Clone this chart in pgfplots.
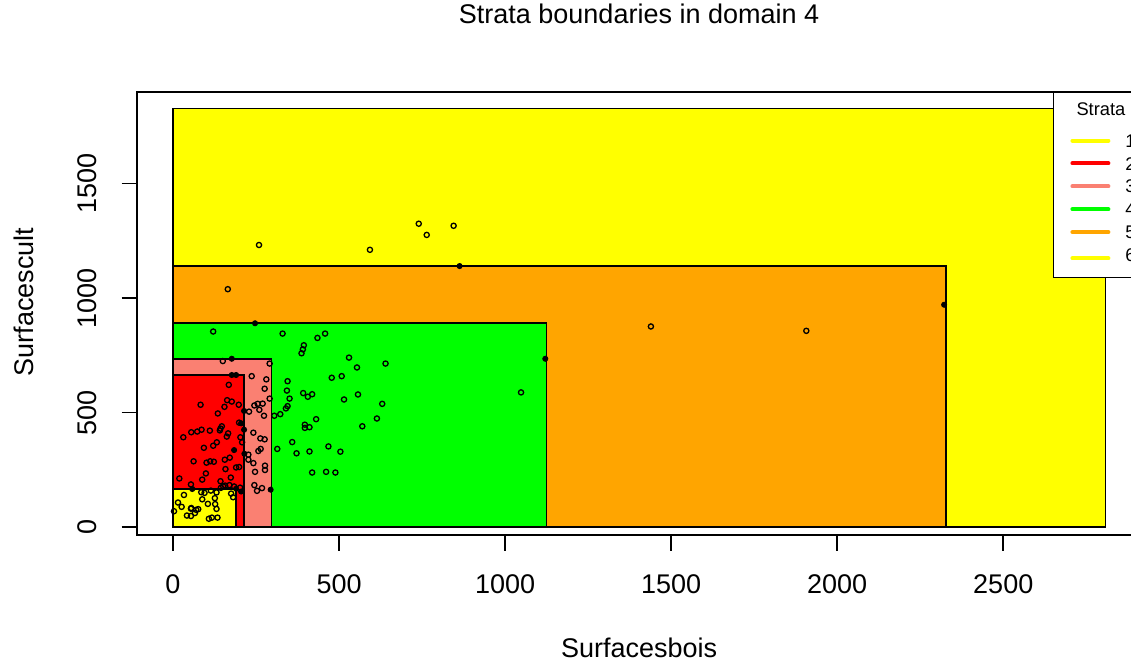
\documentclass[border=0pt]{standalone}
\usepackage{fontspec}
\setmainfont{Liberation Sans}
\usepackage{pgfplots}
\pgfplotsset{compat=1.18}
\definecolor{rsalmon}{HTML}{FA8072}
\definecolor{ryellow}{HTML}{FFFF00}
\definecolor{rred}{HTML}{FF0000}
\definecolor{rgreen}{HTML}{00FF00}
\definecolor{rorange}{HTML}{FFA500}
\pgfplotstableread{
x y
121 854
330 845
435 826
458 845
394 794
391 776
387 759
150 725
291 714
237 659
281 645
168 621
345 637
276 604
343 596
392 585
406 569
419 580
291 561
351 561
83 534
163 554
177 548
198 534
155 525
255 538
270 539
245 531
260 512
340 518
345 528
229 504
135 496
274 486
305 486
323 493
431 471
199 456
147 440
143 430
141 422
397 447
397 433
411 436
86 425
73 417
55 414
111 421
166 409
162 395
31 392
203 392
242 412
263 387
276 383
208 370
132 370
121 355
93 346
314 341
359 371
372 322
411 330
264 341
257 332
227 316
227 294
171 303
156 294
62 287
101 281
112 287
123 285
242 279
199 262
190 260
158 253
247 241
277 268
277 249
99 234
174 216
419 238
19 212
88 207
143 200
54 186
151 178
157 181
170 183
184 177
202 172
245 183
253 158
268 170
85 152
95 149
114 159
131 151
33 140
175 146
181 130
88 121
15 107
26 88
105 101
127 100
131 79
3 69
54 80
70 75
76 78
66 61
42 50
54 48
108 36
134 41
144 171
126 126
117 41
55 83
530 740
554 697
640 714
478 652
508 659
515 557
557 579
630 538
614 474
570 440
468 352
504 329
461 241
489 238
1048 588
740 1325
764 1276
845 1316
593 1211
259 1232
165 1039
1439 876
1907 857
}\openpts
\pgfplotstableread{
x y
247 890
177 735
177 664
190 664
214 507
205 453
214 425
184 336
215 320
58 166
190 167
294 163
1121 735
2322 971
863 1140
205 155
}\filledpts
\begin{document}
\begin{tikzpicture}
\begin{axis}[
 at={(68.65pt,65.5pt)}, anchor=south west,
 scale only axis, width=502.85pt, height=221.5pt,
 xmin=-107.5, xmax=2920.8, ymin=-35, ymax=1900.4,
 axis line style={line width=0.8pt},
 tick pos=left, tick align=outside, major tick length=7.8pt,
 tick style={black, line width=0.8pt},
 xtick={0,500,1000,1500,2000,2500}, ytick={0,500,1000,1500},
 minor tick num=0,
 scaled ticks=false,
 /pgf/number format/assume math mode=true,
 /pgf/number format/set thousands separator={},
 ticklabel style={font=\fontsize{13.5}{16}\selectfont, inner sep=0pt},
 xticklabel style={anchor=base},
 yticklabel style={rotate=90, anchor=base},
 xticklabel shift=21.2pt, yticklabel shift=12.5pt,
 title={Strata boundaries in domain 4},
 title style={at={(rel axis cs:0.4989,1.12867)}, anchor=base, inner sep=0pt, font=\fontsize{13.5}{16}\selectfont},
 xlabel={Surfacesbois},
 xlabel style={at={(rel axis cs:0.4989,-0.2754)}, anchor=base, inner sep=0pt, font=\fontsize{13.5}{16}\selectfont},
 ylabel={Surfacescult},
 ylabel style={at={(rel axis cs:-0.10321,0.526)}, anchor=base, inner sep=0pt, font=\fontsize{13.5}{16}\selectfont},
 legend style={at={(rel axis cs:0.91082,1)}, anchor=north west, draw=black, line width=0.5pt, fill=white,
   font=\fontsize{9.15}{11}\selectfont, inner xsep=8.3pt, inner ysep=4.9pt, row sep=4.85pt, column sep=7.5pt,
   nodes={inner sep=0pt, text height=6.6pt, text depth=0pt}},
 legend cell align=left,
 legend image code/.code={\draw[#1, line width=2pt, line cap=round] (0pt,0pt) -- (18pt,0pt);},
]
\addplot[fill=ryellow, draw=black, line width=0.8pt, forget plot] coordinates {(0,0) (0,1829) (2808,1829) (2808,0)} \closedcycle;
\addplot[fill=rorange, draw=black, line width=0.8pt, forget plot] coordinates {(0,0) (0,1140) (2327,1140) (2327,0)} \closedcycle;
\addplot[fill=rgreen, draw=black, line width=0.8pt, forget plot] coordinates {(0,0) (0,890) (1125,890) (1125,0)} \closedcycle;
\addplot[fill=rsalmon, draw=black, line width=0.8pt, forget plot] coordinates {(0,0) (0,735) (297,735) (297,0)} \closedcycle;
\addplot[fill=rred, draw=black, line width=0.8pt, forget plot] coordinates {(0,0) (0,664) (214,664) (214,0)} \closedcycle;
\addplot[fill=ryellow, draw=black, line width=0.8pt, forget plot] coordinates {(0,0) (0,165) (190,165) (190,0)} \closedcycle;
\addplot[only marks, mark=o, mark size=1.3pt, mark options={line width=0.65pt, draw=black}, forget plot] table[x=x, y=y] {\openpts};
\addplot[only marks, mark=*, mark size=1.3pt, mark options={draw=black, fill=black}, forget plot] table[x=x, y=y] {\filledpts};
\addlegendimage{empty legend}
\addlegendentry[text depth=4.35pt]{\makebox[0pt][l]{\hspace*{-24.95pt}Strata}}
\addlegendimage{ryellow}
\addlegendentry{1}
\addlegendimage{rred}
\addlegendentry{2}
\addlegendimage{rsalmon}
\addlegendentry{3}
\addlegendimage{rgreen}
\addlegendentry{4}
\addlegendimage{rorange}
\addlegendentry{5}
\addlegendimage{ryellow}
\addlegendentry[text depth=3.2pt]{6}
\end{axis}
\pgfresetboundingbox
\path[use as bounding box] (0,0) rectangle (565.5pt,333pt);
\end{tikzpicture}
\end{document}
